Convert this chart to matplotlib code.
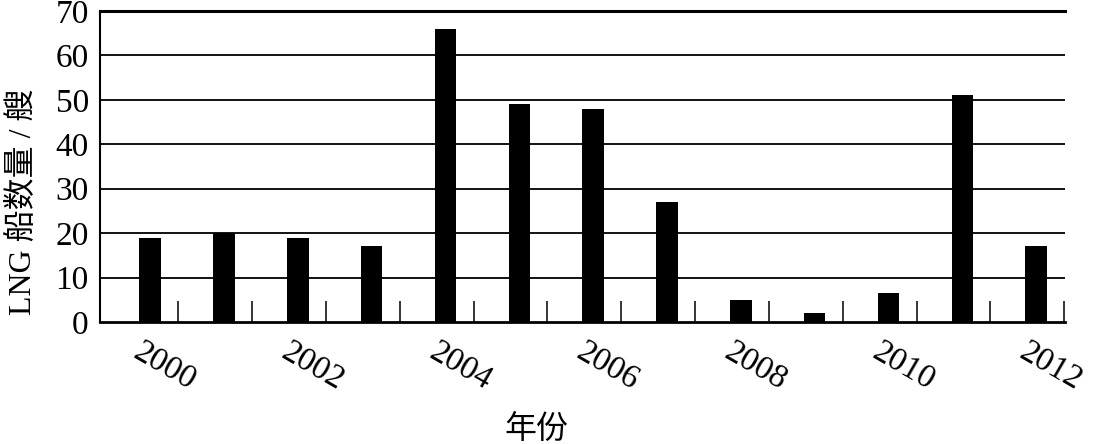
import matplotlib.pyplot as plt
import numpy as np

# data
years = [2000, 2001, 2002, 2003, 2004, 2005, 2006, 2007, 2008, 2009, 2010, 2011, 2012]
ships = [19, 20, 19, 17, 66, 49, 48, 27, 5, 2, 6.5, 51, 17]
label_years = [2000, 2002, 2004, 2006, 2008, 2010, 2012]
y_ticks = [0, 10, 20, 30, 40, 50, 60, 70]

serif = ["Liberation Serif", "Noto Sans CJK SC", "DejaVu Sans"]
plt.rcParams["font.family"] = serif

fig = plt.figure(figsize=(10.95, 4.44), dpi=100)
ax = fig.add_axes([0.0913, 0.2748, 0.8813, 0.7004])

x = np.arange(len(years))
ax.bar(x, ships, width=0.29, color="black", zorder=3)

ax.set_ylim(0, 70)
ax.set_xlim(-0.68, len(years) - 1 + 0.39)
ax.set_yticks(y_ticks)
ax.set_yticklabels([str(v) for v in y_ticks], fontsize=24)
ax.tick_params(axis="y", length=0, pad=8)

# horizontal grid lines
for v in y_ticks[1:-1]:
    ax.axhline(v, color="black", lw=1.3, zorder=1)

# small inward ticks between bars on the baseline
ax.set_xticks(x + 0.38)
ax.set_xticklabels([])
ax.tick_params(axis="x", direction="in", length=15, width=1.1, color="black")

# year labels under every other bar
for yr in label_years:
    i = years.index(yr)
    ax.text(i - 0.09, -3.2, str(yr), rotation=-30, fontsize=24,
            ha="left", va="top", rotation_mode="anchor",
            transform=ax.transData)

ax.spines["right"].set_visible(False)
ax.spines["top"].set_linewidth(2.2)
ax.spines["left"].set_linewidth(1.5)
ax.spines["bottom"].set_linewidth(2)

fig.text(0.021, 0.545, "LNG 船数量 / 艘", rotation=90, fontsize=23,
         ha="center", va="center")
fig.text(0.49, 0.03, "年份", fontsize=23, ha="center", va="center")

plt.savefig("out.png", dpi=100)
